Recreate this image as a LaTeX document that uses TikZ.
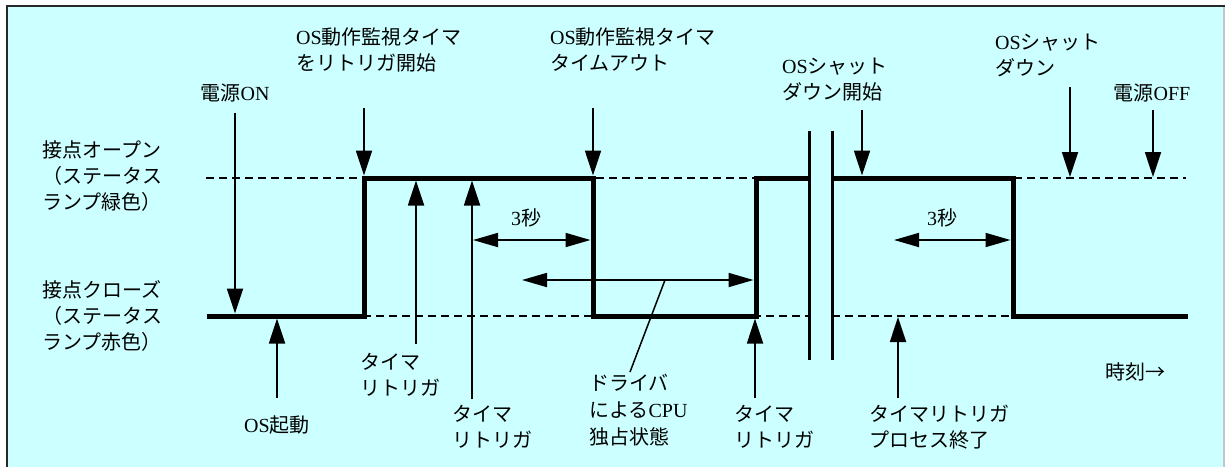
\documentclass[tikz,border=0pt]{standalone}
\usepackage{fontspec}
\setmainfont{Liberation Serif}
\newfontfamily\jpfont{Noto Sans CJK JP}
\newcommand\JP[1]{{\jpfont #1}}
\usetikzlibrary{arrows.meta}
\definecolor{bgcyan}{RGB}{204,255,255}
\definecolor{framegray}{RGB}{40,40,40}
\definecolor{edgegray}{RGB}{190,200,200}
\begin{document}
\begin{tikzpicture}[x=1pt,y=-1pt,
  lbl/.style={inner sep=0pt, align=left, font=\fontsize{20}{26}\selectfont},
  sig/.style={line width=5pt, line join=miter, line cap=butt},
  lvl/.style={line width=1.5pt, dash pattern=on 8pt off 5pt},
  brk/.style={line width=3pt},
  arr/.style={line width=1.8pt, -{Triangle[length=25pt,width=16pt]}},
  darr/.style={line width=1.8pt, {Triangle[length=25pt,width=14pt]}-{Triangle[length=25pt,width=14pt]}},
  lead/.style={line width=1.5pt}]
\useasboundingbox (0,0) rectangle (1225,467);
\fill[white] (0,0) rectangle (1225,467);
\fill[bgcyan] (7,6) rectangle (1225,467);
\draw[edgegray, line width=1.5pt] (1224,6) -- (1224,467);
\draw[framegray, line width=2pt] (7,467) -- (7,6) -- (1225,6);

% labels
\node[lbl, anchor=west] (open) at (42,176) {\JP{接点オープン}\\\JP{（ステータス}\\\JP{ランプ緑色）}};
\node[lbl, anchor=west] (close) at (42,316) {\JP{接点クローズ}\\\JP{（ステータス}\\\JP{ランプ赤色）}};
\node[lbl, anchor=west] (trig) at (296,50) {OS\JP{動作監視タイマ}\\\JP{をリトリガ開始}};
\node[lbl, anchor=west] (tout) at (550,50) {OS\JP{動作監視タイマ}\\\JP{タイムアウト}};
\node[lbl] (pon) at (235,93) {\JP{電源}ON};
\node[lbl, anchor=west] (sds) at (782,80) {OS\JP{シャット}\\\JP{ダウン開始}};
\node[lbl, anchor=west] (sd) at (995,55) {OS\JP{シャット}\\\JP{ダウン}};
\node[lbl] (poff) at (1152,93) {\JP{電源}OFF};
\node[lbl] (boot) at (277,425) {OS\JP{起動}};
\node[lbl, anchor=west] (t1) at (360,375) {\JP{タイマ}\\\JP{リトリガ}};
\node[lbl, anchor=west] (t2) at (452,427) {\JP{タイマ}\\\JP{リトリガ}};
\node[lbl, anchor=west, font=\fontsize{20}{27}\selectfont] (cpu) at (589,410) {\JP{ドライバ}\\\JP{による}CPU\\\JP{独占状態}};
\node[lbl, anchor=west] (t3) at (734,427) {\JP{タイマ}\\\JP{リトリガ}};
\node[lbl, anchor=west] (t4) at (869,427) {\JP{タイマリトリガ}\\\JP{プロセス終了}};
\node[lbl] (tm) at (1135,372) {\JP{時刻→}};
\node[lbl] (s1) at (526,218) {3\JP{秒}};
\node[lbl] (s2) at (942,218) {3\JP{秒}};

% level lines
\draw[lvl] (206,178) -- (809,178);
\draw[lvl] (832,178) -- (1186,178);
\draw[lvl] (207,316) -- (809,316);
\draw[lvl] (832,316) -- (1188,316);

% signal
\draw[sig] (207,316) -- (364,316) -- (364,178) -- (593,178) -- (593,316) -- (756,316) -- (756,178) -- (809,178);
\draw[sig] (832,178) -- (1013,178) -- (1013,316) -- (1188,316);

% break marks
\draw[brk] (809,131) -- (809,360);
\draw[brk] (832,131) -- (832,360);

% coordinates
\coordinate (ponA) at (235,113);  \coordinate (ponB) at (235,313.5);
\coordinate (trigA) at (364,108); \coordinate (trigB) at (364,175.5);
\coordinate (toutA) at (593,108); \coordinate (toutB) at (593,175.5);
\coordinate (sdsA) at (862,110);  \coordinate (sdsB) at (862,175.5);
\coordinate (sdA) at (1070,87);   \coordinate (sdB) at (1070,177);
\coordinate (poffA) at (1153,110);\coordinate (poffB) at (1153,177);
\coordinate (t1A) at (416,344);   \coordinate (t1B) at (416,180.5);
\coordinate (t2A) at (472,399);   \coordinate (t2B) at (472,180.5);
\coordinate (bootA) at (277,398); \coordinate (bootB) at (277,318.5);
\coordinate (t3A) at (755,398);   \coordinate (t3B) at (755,318.5);
\coordinate (t4A) at (898,398);   \coordinate (t4B) at (898,317);
\coordinate (s1A) at (473,240);   \coordinate (s1B) at (590.5,240);
\coordinate (s2A) at (894,240);   \coordinate (s2B) at (1010.5,240);
\coordinate (cpuA) at (522,280);  \coordinate (cpuB) at (753.5,280);
\coordinate (ldA) at (665,280);   \coordinate (ldB) at (630,372);

% arrows
\draw[arr] (ponA) -- (ponB);
\draw[arr] (trigA) -- (trigB);
\draw[arr] (toutA) -- (toutB);
\draw[arr] (sdsA) -- (sdsB);
\draw[arr] (sdA) -- (sdB);
\draw[arr] (poffA) -- (poffB);
\draw[arr] (t1A) -- (t1B);
\draw[arr] (t2A) -- (t2B);
\draw[arr] (bootA) -- (bootB);
\draw[arr] (t3A) -- (t3B);
\draw[arr] (t4A) -- (t4B);
\draw[darr] (s1A) -- (s1B);
\draw[darr] (s2A) -- (s2B);
\draw[darr] (cpuA) -- (cpuB);
\draw[lead] (ldA) -- (ldB);
\end{tikzpicture}
\end{document}
